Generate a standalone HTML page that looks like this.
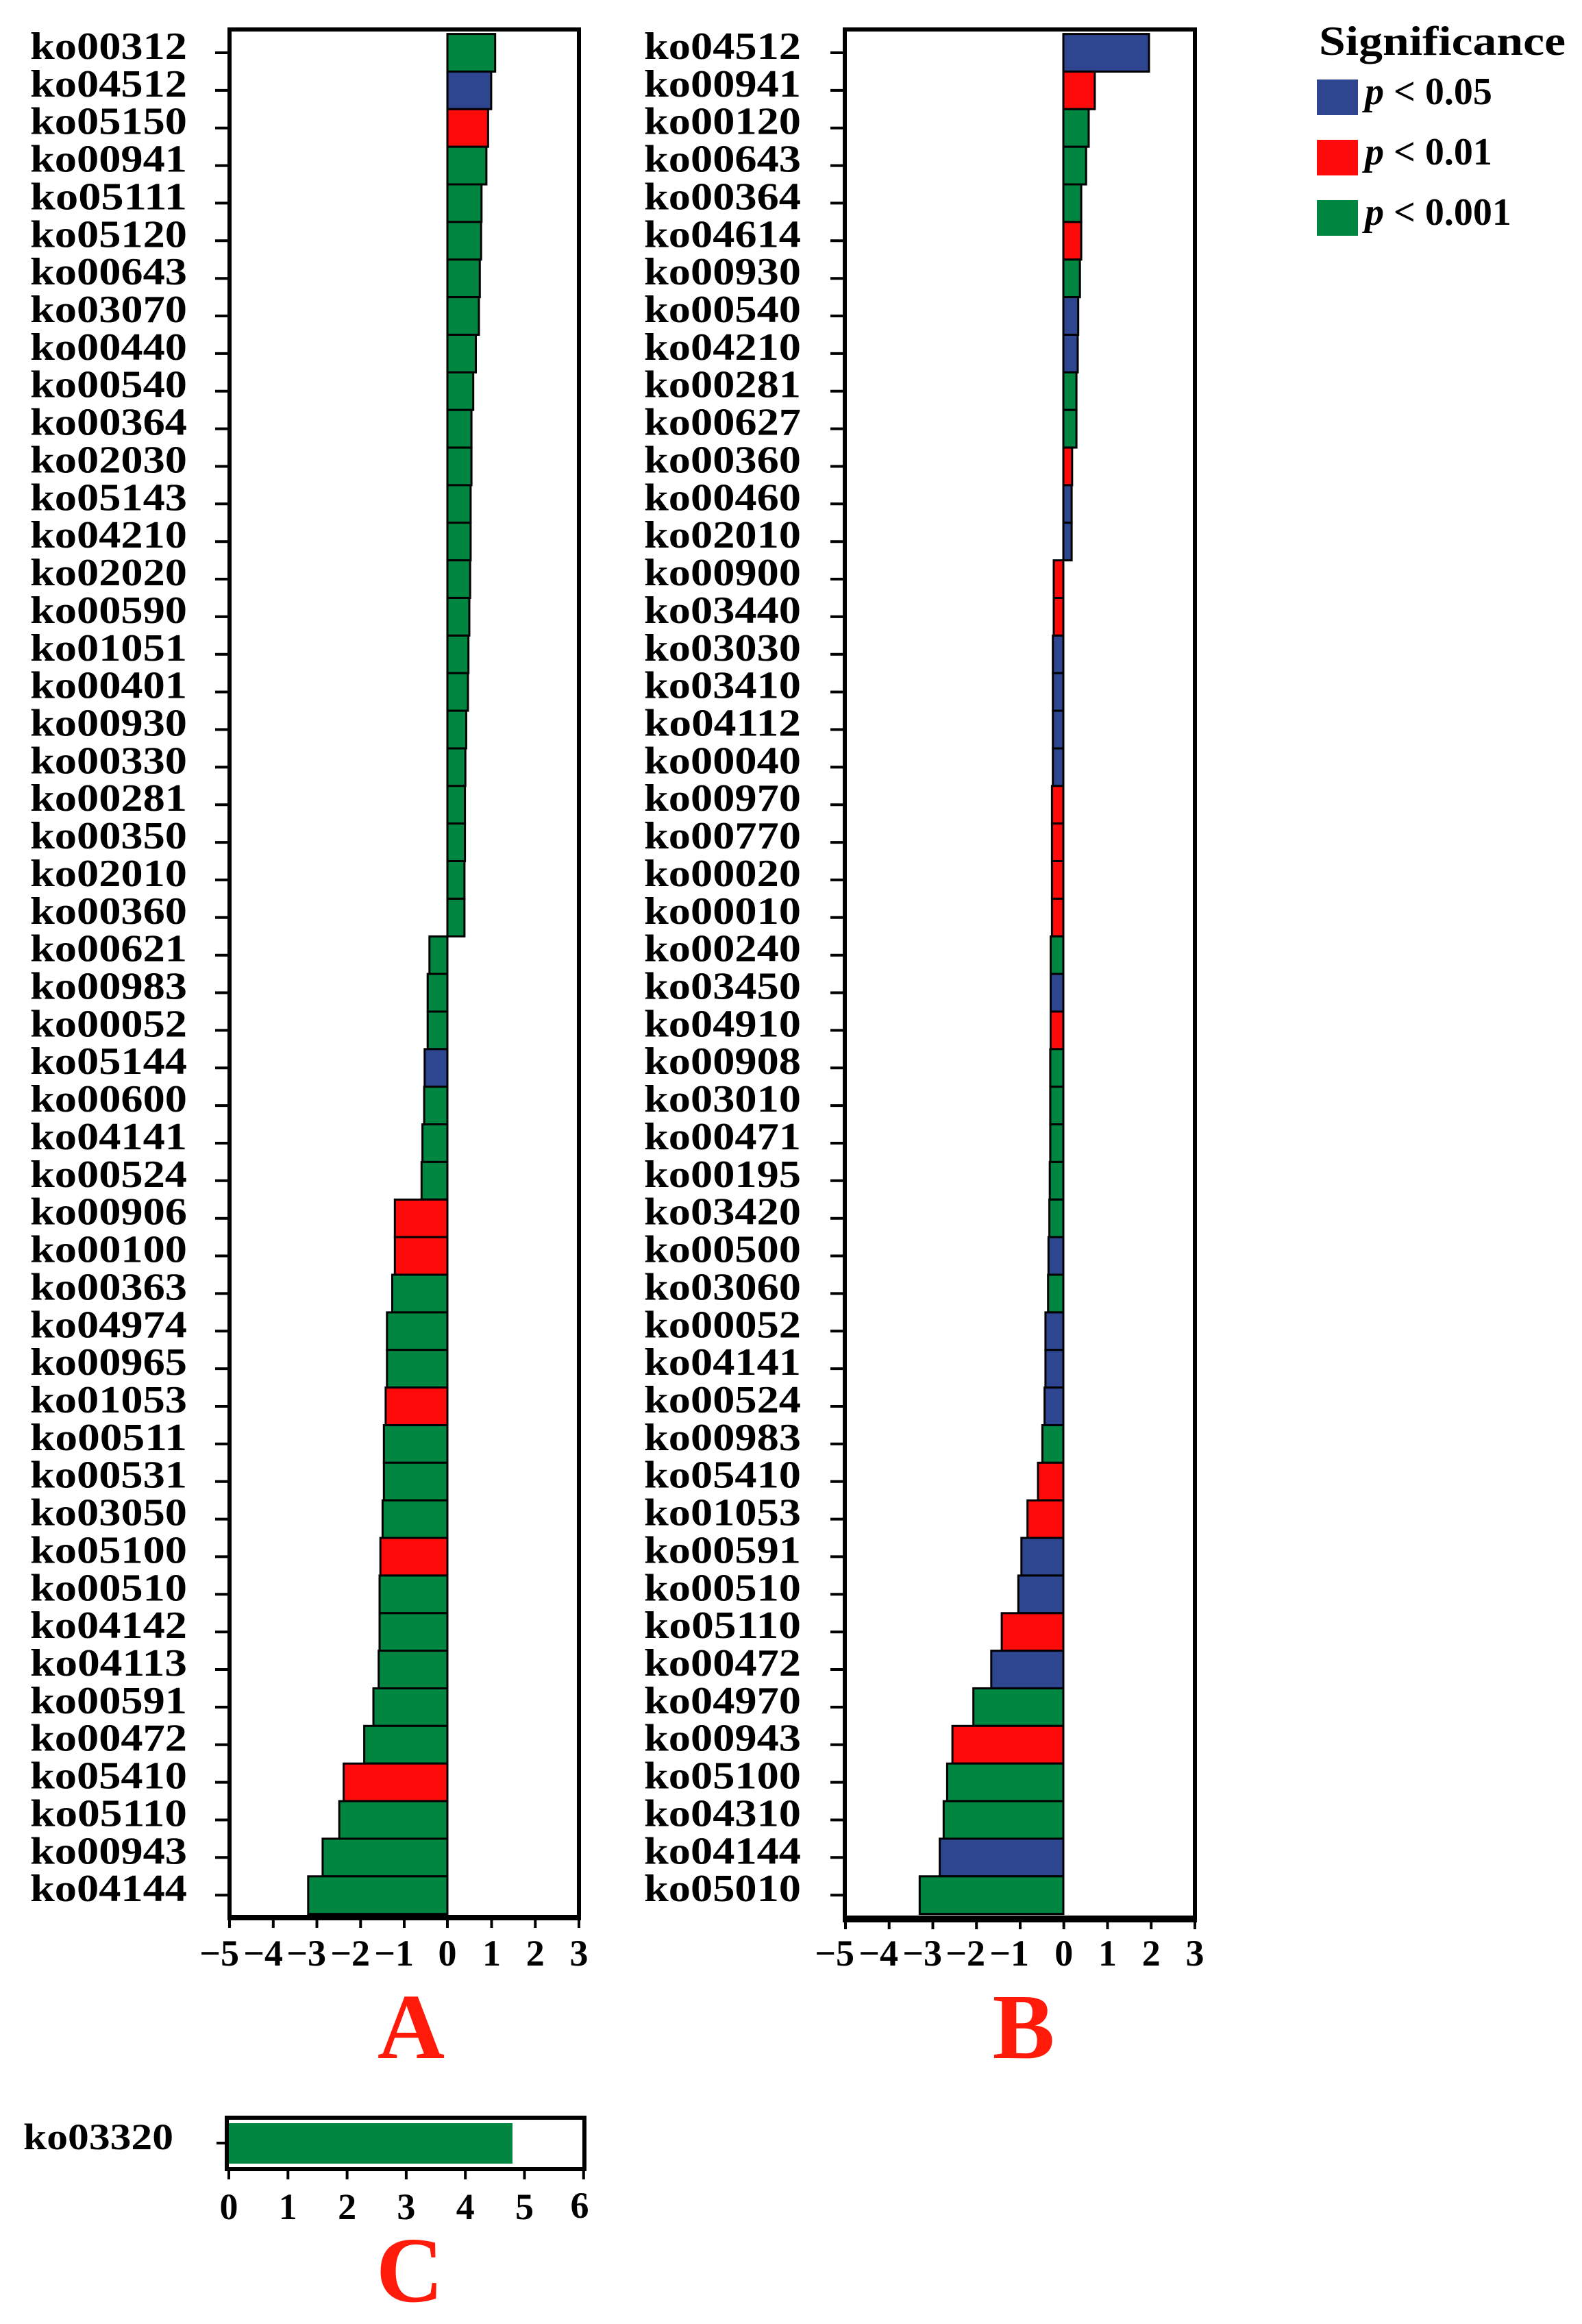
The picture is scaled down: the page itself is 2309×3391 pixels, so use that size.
<!DOCTYPE html>
<html><head><meta charset="utf-8"><style>html,body{margin:0;padding:0;background:#fff}svg{display:block}
svg text{font-family:"Liberation Serif","Times New Roman",serif;font-weight:bold}</style></head><body>
<svg width="2309" height="3391" viewBox="0 0 2309 3391" xmlns="http://www.w3.org/2000/svg">
<rect width="2309" height="3391" fill="#fff"/>
<!-- Panel A bars -->
<g stroke="#000" stroke-width="3" transform="translate(-4,0)">
<rect x="657" y="49.6" width="69.7" height="54.86" fill="#008640"/>
<rect x="657" y="104.4" width="63.9" height="54.86" fill="#2e4590"/>
<rect x="657" y="159.3" width="59.4" height="54.86" fill="#ff0a0a"/>
<rect x="657" y="214.2" width="56.9" height="54.86" fill="#008640"/>
<rect x="657" y="269.0" width="49.8" height="54.86" fill="#008640"/>
<rect x="657" y="323.9" width="49.2" height="54.86" fill="#008640"/>
<rect x="657" y="378.8" width="47.3" height="54.86" fill="#008640"/>
<rect x="657" y="433.6" width="46" height="54.86" fill="#008640"/>
<rect x="657" y="488.5" width="41.5" height="54.86" fill="#008640"/>
<rect x="657" y="543.3" width="37.7" height="54.86" fill="#008640"/>
<rect x="657" y="598.2" width="35.1" height="54.86" fill="#008640"/>
<rect x="657" y="653.1" width="35.1" height="54.86" fill="#008640"/>
<rect x="657" y="707.9" width="33.9" height="54.86" fill="#008640"/>
<rect x="657" y="762.8" width="33.9" height="54.86" fill="#008640"/>
<rect x="657" y="817.6" width="33.2" height="54.86" fill="#008640"/>
<rect x="657" y="872.5" width="32" height="54.86" fill="#008640"/>
<rect x="657" y="927.4" width="30.7" height="54.86" fill="#008640"/>
<rect x="657" y="982.2" width="30" height="54.86" fill="#008640"/>
<rect x="657" y="1037.1" width="27.5" height="54.86" fill="#008640"/>
<rect x="657" y="1092.0" width="26.2" height="54.86" fill="#008640"/>
<rect x="657" y="1146.8" width="25.6" height="54.86" fill="#008640"/>
<rect x="657" y="1201.7" width="25.6" height="54.86" fill="#008640"/>
<rect x="657" y="1256.5" width="24.9" height="54.86" fill="#008640"/>
<rect x="657" y="1311.4" width="24.9" height="54.86" fill="#008640"/>
<rect x="630.8" y="1366.3" width="26.2" height="54.86" fill="#008640"/>
<rect x="628.2" y="1421.1" width="28.8" height="54.86" fill="#008640"/>
<rect x="628.2" y="1476.0" width="28.8" height="54.86" fill="#008640"/>
<rect x="623.8" y="1530.8" width="33.2" height="54.86" fill="#2e4590"/>
<rect x="623.1" y="1585.7" width="33.9" height="54.86" fill="#008640"/>
<rect x="620.6" y="1640.6" width="36.4" height="54.86" fill="#008640"/>
<rect x="619.3" y="1695.4" width="37.7" height="54.86" fill="#008640"/>
<rect x="580.3" y="1750.3" width="76.7" height="54.86" fill="#ff0a0a"/>
<rect x="580.3" y="1805.1" width="76.7" height="54.86" fill="#ff0a0a"/>
<rect x="576.5" y="1860.0" width="80.5" height="54.86" fill="#008640"/>
<rect x="568.8" y="1914.9" width="88.2" height="54.86" fill="#008640"/>
<rect x="568.8" y="1969.7" width="88.2" height="54.86" fill="#008640"/>
<rect x="566.9" y="2024.6" width="90.1" height="54.86" fill="#ff0a0a"/>
<rect x="564.3" y="2079.5" width="92.7" height="54.86" fill="#008640"/>
<rect x="564.3" y="2134.3" width="92.7" height="54.86" fill="#008640"/>
<rect x="562.4" y="2189.2" width="94.6" height="54.86" fill="#008640"/>
<rect x="559.2" y="2244.0" width="97.8" height="54.86" fill="#ff0a0a"/>
<rect x="558" y="2298.9" width="99" height="54.86" fill="#008640"/>
<rect x="558" y="2353.8" width="99" height="54.86" fill="#008640"/>
<rect x="556.7" y="2408.6" width="100.3" height="54.86" fill="#008640"/>
<rect x="549" y="2463.5" width="108" height="54.86" fill="#008640"/>
<rect x="535.6" y="2518.3" width="121.4" height="54.86" fill="#008640"/>
<rect x="505.6" y="2573.2" width="151.4" height="54.86" fill="#ff0a0a"/>
<rect x="499.2" y="2628.1" width="157.8" height="54.86" fill="#008640"/>
<rect x="474.9" y="2682.9" width="182.1" height="54.86" fill="#008640"/>
<rect x="453.8" y="2737.8" width="203.2" height="54.86" fill="#008640"/>
</g>
<!-- Panel B bars -->
<g stroke="#000" stroke-width="3" transform="translate(-15,0)">
<rect x="1567" y="49.6" width="125" height="54.86" fill="#2e4590"/>
<rect x="1567" y="104.4" width="45.9" height="54.86" fill="#ff0a0a"/>
<rect x="1567" y="159.3" width="37" height="54.86" fill="#008640"/>
<rect x="1567" y="214.2" width="33.2" height="54.86" fill="#008640"/>
<rect x="1567" y="269.0" width="26.1" height="54.86" fill="#008640"/>
<rect x="1567" y="323.9" width="26.1" height="54.86" fill="#ff0a0a"/>
<rect x="1567" y="378.8" width="24.2" height="54.86" fill="#008640"/>
<rect x="1567" y="433.6" width="21.7" height="54.86" fill="#2e4590"/>
<rect x="1567" y="488.5" width="21" height="54.86" fill="#2e4590"/>
<rect x="1567" y="543.3" width="19.1" height="54.86" fill="#008640"/>
<rect x="1567" y="598.2" width="19.1" height="54.86" fill="#008640"/>
<rect x="1567" y="653.1" width="12.8" height="54.86" fill="#ff0a0a"/>
<rect x="1567" y="707.9" width="12.1" height="54.86" fill="#2e4590"/>
<rect x="1567" y="762.8" width="12.1" height="54.86" fill="#2e4590"/>
<rect x="1553" y="817.6" width="14" height="54.86" fill="#ff0a0a"/>
<rect x="1553" y="872.5" width="14" height="54.86" fill="#ff0a0a"/>
<rect x="1551.7" y="927.4" width="15.3" height="54.86" fill="#2e4590"/>
<rect x="1551.7" y="982.2" width="15.3" height="54.86" fill="#2e4590"/>
<rect x="1551.7" y="1037.1" width="15.3" height="54.86" fill="#2e4590"/>
<rect x="1551.7" y="1092.0" width="15.3" height="54.86" fill="#2e4590"/>
<rect x="1550.4" y="1146.8" width="16.6" height="54.86" fill="#ff0a0a"/>
<rect x="1550.4" y="1201.7" width="16.6" height="54.86" fill="#ff0a0a"/>
<rect x="1550.4" y="1256.5" width="16.6" height="54.86" fill="#ff0a0a"/>
<rect x="1550.4" y="1311.4" width="16.6" height="54.86" fill="#ff0a0a"/>
<rect x="1548.5" y="1366.3" width="18.5" height="54.86" fill="#008640"/>
<rect x="1548.5" y="1421.1" width="18.5" height="54.86" fill="#2e4590"/>
<rect x="1548.5" y="1476.0" width="18.5" height="54.86" fill="#ff0a0a"/>
<rect x="1547.9" y="1530.8" width="19.1" height="54.86" fill="#008640"/>
<rect x="1547.9" y="1585.7" width="19.1" height="54.86" fill="#008640"/>
<rect x="1547.9" y="1640.6" width="19.1" height="54.86" fill="#008640"/>
<rect x="1547.2" y="1695.4" width="19.8" height="54.86" fill="#008640"/>
<rect x="1546.6" y="1750.3" width="20.4" height="54.86" fill="#008640"/>
<rect x="1545.3" y="1805.1" width="21.7" height="54.86" fill="#2e4590"/>
<rect x="1544.7" y="1860.0" width="22.3" height="54.86" fill="#008640"/>
<rect x="1540.9" y="1914.9" width="26.1" height="54.86" fill="#2e4590"/>
<rect x="1540.9" y="1969.7" width="26.1" height="54.86" fill="#2e4590"/>
<rect x="1539.6" y="2024.6" width="27.4" height="54.86" fill="#2e4590"/>
<rect x="1536.4" y="2079.5" width="30.6" height="54.86" fill="#008640"/>
<rect x="1530" y="2134.3" width="37" height="54.86" fill="#ff0a0a"/>
<rect x="1514.7" y="2189.2" width="52.3" height="54.86" fill="#ff0a0a"/>
<rect x="1505.8" y="2244.0" width="61.2" height="54.86" fill="#2e4590"/>
<rect x="1501.3" y="2298.9" width="65.7" height="54.86" fill="#2e4590"/>
<rect x="1477.1" y="2353.8" width="89.9" height="54.86" fill="#ff0a0a"/>
<rect x="1461.8" y="2408.6" width="105.2" height="54.86" fill="#2e4590"/>
<rect x="1435.7" y="2463.5" width="131.3" height="54.86" fill="#008640"/>
<rect x="1405.1" y="2518.3" width="161.9" height="54.86" fill="#ff0a0a"/>
<rect x="1397.4" y="2573.2" width="169.6" height="54.86" fill="#008640"/>
<rect x="1392.3" y="2628.1" width="174.7" height="54.86" fill="#008640"/>
<rect x="1386.6" y="2682.9" width="180.4" height="54.86" fill="#2e4590"/>
<rect x="1357.3" y="2737.8" width="209.7" height="54.86" fill="#008640"/>
</g>
<!-- Frames -->
<rect x="335" y="43" width="510" height="2754" fill="none" stroke="#000" stroke-width="6"/>
<rect x="1233" y="43" width="511" height="2756" fill="none" stroke="#000" stroke-width="6"/>
<line x1="332" y1="2798" x2="848" y2="2798" stroke="#000" stroke-width="8"/>
<line x1="1230" y1="2800" x2="1747" y2="2800" stroke="#000" stroke-width="10"/>
<!-- y ticks -->
<g stroke="#000" stroke-width="4">
<path transform="translate(-2,0)" d="M316 77H337M316 131.9H337M316 186.7H337M316 241.6H337M316 296.4H337M316 351.3H337M316 406.2H337M316 461H337M316 515.9H337M316 570.7H337M316 625.6H337M316 680.5H337M316 735.3H337M316 790.2H337M316 845H337M316 899.9H337M316 954.8H337M316 1009.6H337M316 1064.5H337M316 1119.4H337M316 1174.2H337M316 1229.1H337M316 1283.9H337M316 1338.8H337M316 1393.7H337M316 1448.5H337M316 1503.4H337M316 1558.2H337M316 1613.1H337M316 1668H337M316 1722.8H337M316 1777.7H337M316 1832.5H337M316 1887.4H337M316 1942.3H337M316 1997.1H337M316 2052H337M316 2106.9H337M316 2161.7H337M316 2216.6H337M316 2271.4H337M316 2326.3H337M316 2381.2H337M316 2436H337M316 2490.9H337M316 2545.7H337M316 2600.6H337M316 2655.5H337M316 2710.3H337M316 2765.2H337"/>
<path transform="translate(-15,0)" d="M1227 77H1248M1227 131.9H1248M1227 186.7H1248M1227 241.6H1248M1227 296.4H1248M1227 351.3H1248M1227 406.2H1248M1227 461H1248M1227 515.9H1248M1227 570.7H1248M1227 625.6H1248M1227 680.5H1248M1227 735.3H1248M1227 790.2H1248M1227 845H1248M1227 899.9H1248M1227 954.8H1248M1227 1009.6H1248M1227 1064.5H1248M1227 1119.4H1248M1227 1174.2H1248M1227 1229.1H1248M1227 1283.9H1248M1227 1338.8H1248M1227 1393.7H1248M1227 1448.5H1248M1227 1503.4H1248M1227 1558.2H1248M1227 1613.1H1248M1227 1668H1248M1227 1722.8H1248M1227 1777.7H1248M1227 1832.5H1248M1227 1887.4H1248M1227 1942.3H1248M1227 1997.1H1248M1227 2052H1248M1227 2106.9H1248M1227 2161.7H1248M1227 2216.6H1248M1227 2271.4H1248M1227 2326.3H1248M1227 2381.2H1248M1227 2436H1248M1227 2490.9H1248M1227 2545.7H1248M1227 2600.6H1248M1227 2655.5H1248M1227 2710.3H1248M1227 2765.2H1248"/>
<!-- x ticks -->
<path d="M335 2798V2813M398.8 2798V2813M462.5 2798V2813M526.3 2798V2813M590 2798V2813M653 2798V2813M717.5 2798V2813M781.3 2798V2813M845 2798V2813"/>
<path d="M1234 2800V2815M1297.7 2800V2815M1361.5 2800V2815M1425.2 2800V2815M1489 2800V2815M1552.7 2800V2815M1616.5 2800V2815M1680.2 2800V2815M1744 2800V2815"/>
</g>
<!-- x tick labels -->
<g font-size="54" fill="#000" text-anchor="end">
<text x="349" y="2868">−5</text><text x="413" y="2868">−4</text><text x="476" y="2868">−3</text><text x="540" y="2868">−2</text><text x="604" y="2868">−1</text>
</g>
<g font-size="54" fill="#000" text-anchor="middle">
<text x="653" y="2868">0</text><text x="717.5" y="2868">1</text><text x="781.3" y="2868">2</text><text x="845" y="2868">3</text>
</g>
<g font-size="54" fill="#000" text-anchor="end">
<text x="1247" y="2868">−5</text><text x="1311" y="2868">−4</text><text x="1375" y="2868">−3</text><text x="1438" y="2868">−2</text><text x="1502" y="2868">−1</text>
</g>
<g font-size="54" fill="#000" text-anchor="middle">
<text x="1552.7" y="2868">0</text><text x="1616.5" y="2868">1</text><text x="1680.2" y="2868">2</text><text x="1744" y="2868">3</text>
</g>
<!-- A labels -->
<g font-size="56" fill="#000">
<text x="44" y="86" textLength="229" lengthAdjust="spacingAndGlyphs">ko00312</text>
<text x="44" y="140.9" textLength="229" lengthAdjust="spacingAndGlyphs">ko04512</text>
<text x="44" y="195.7" textLength="229" lengthAdjust="spacingAndGlyphs">ko05150</text>
<text x="44" y="250.6" textLength="229" lengthAdjust="spacingAndGlyphs">ko00941</text>
<text x="44" y="305.4" textLength="229" lengthAdjust="spacingAndGlyphs">ko05111</text>
<text x="44" y="360.3" textLength="229" lengthAdjust="spacingAndGlyphs">ko05120</text>
<text x="44" y="415.2" textLength="229" lengthAdjust="spacingAndGlyphs">ko00643</text>
<text x="44" y="470" textLength="229" lengthAdjust="spacingAndGlyphs">ko03070</text>
<text x="44" y="524.9" textLength="229" lengthAdjust="spacingAndGlyphs">ko00440</text>
<text x="44" y="579.7" textLength="229" lengthAdjust="spacingAndGlyphs">ko00540</text>
<text x="44" y="634.6" textLength="229" lengthAdjust="spacingAndGlyphs">ko00364</text>
<text x="44" y="689.5" textLength="229" lengthAdjust="spacingAndGlyphs">ko02030</text>
<text x="44" y="744.3" textLength="229" lengthAdjust="spacingAndGlyphs">ko05143</text>
<text x="44" y="799.2" textLength="229" lengthAdjust="spacingAndGlyphs">ko04210</text>
<text x="44" y="854" textLength="229" lengthAdjust="spacingAndGlyphs">ko02020</text>
<text x="44" y="908.9" textLength="229" lengthAdjust="spacingAndGlyphs">ko00590</text>
<text x="44" y="963.8" textLength="229" lengthAdjust="spacingAndGlyphs">ko01051</text>
<text x="44" y="1018.6" textLength="229" lengthAdjust="spacingAndGlyphs">ko00401</text>
<text x="44" y="1073.5" textLength="229" lengthAdjust="spacingAndGlyphs">ko00930</text>
<text x="44" y="1128.4" textLength="229" lengthAdjust="spacingAndGlyphs">ko00330</text>
<text x="44" y="1183.2" textLength="229" lengthAdjust="spacingAndGlyphs">ko00281</text>
<text x="44" y="1238.1" textLength="229" lengthAdjust="spacingAndGlyphs">ko00350</text>
<text x="44" y="1292.9" textLength="229" lengthAdjust="spacingAndGlyphs">ko02010</text>
<text x="44" y="1347.8" textLength="229" lengthAdjust="spacingAndGlyphs">ko00360</text>
<text x="44" y="1402.7" textLength="229" lengthAdjust="spacingAndGlyphs">ko00621</text>
<text x="44" y="1457.5" textLength="229" lengthAdjust="spacingAndGlyphs">ko00983</text>
<text x="44" y="1512.4" textLength="229" lengthAdjust="spacingAndGlyphs">ko00052</text>
<text x="44" y="1567.2" textLength="229" lengthAdjust="spacingAndGlyphs">ko05144</text>
<text x="44" y="1622.1" textLength="229" lengthAdjust="spacingAndGlyphs">ko00600</text>
<text x="44" y="1677" textLength="229" lengthAdjust="spacingAndGlyphs">ko04141</text>
<text x="44" y="1731.8" textLength="229" lengthAdjust="spacingAndGlyphs">ko00524</text>
<text x="44" y="1786.7" textLength="229" lengthAdjust="spacingAndGlyphs">ko00906</text>
<text x="44" y="1841.5" textLength="229" lengthAdjust="spacingAndGlyphs">ko00100</text>
<text x="44" y="1896.4" textLength="229" lengthAdjust="spacingAndGlyphs">ko00363</text>
<text x="44" y="1951.3" textLength="229" lengthAdjust="spacingAndGlyphs">ko04974</text>
<text x="44" y="2006.1" textLength="229" lengthAdjust="spacingAndGlyphs">ko00965</text>
<text x="44" y="2061" textLength="229" lengthAdjust="spacingAndGlyphs">ko01053</text>
<text x="44" y="2115.9" textLength="229" lengthAdjust="spacingAndGlyphs">ko00511</text>
<text x="44" y="2170.7" textLength="229" lengthAdjust="spacingAndGlyphs">ko00531</text>
<text x="44" y="2225.6" textLength="229" lengthAdjust="spacingAndGlyphs">ko03050</text>
<text x="44" y="2280.4" textLength="229" lengthAdjust="spacingAndGlyphs">ko05100</text>
<text x="44" y="2335.3" textLength="229" lengthAdjust="spacingAndGlyphs">ko00510</text>
<text x="44" y="2390.2" textLength="229" lengthAdjust="spacingAndGlyphs">ko04142</text>
<text x="44" y="2445" textLength="229" lengthAdjust="spacingAndGlyphs">ko04113</text>
<text x="44" y="2499.9" textLength="229" lengthAdjust="spacingAndGlyphs">ko00591</text>
<text x="44" y="2554.7" textLength="229" lengthAdjust="spacingAndGlyphs">ko00472</text>
<text x="44" y="2609.6" textLength="229" lengthAdjust="spacingAndGlyphs">ko05410</text>
<text x="44" y="2664.5" textLength="229" lengthAdjust="spacingAndGlyphs">ko05110</text>
<text x="44" y="2719.3" textLength="229" lengthAdjust="spacingAndGlyphs">ko00943</text>
<text x="44" y="2774.2" textLength="229" lengthAdjust="spacingAndGlyphs">ko04144</text>
</g>
<!-- B labels -->
<g font-size="56" fill="#000">
<text x="940" y="86" textLength="229" lengthAdjust="spacingAndGlyphs">ko04512</text>
<text x="940" y="140.9" textLength="229" lengthAdjust="spacingAndGlyphs">ko00941</text>
<text x="940" y="195.7" textLength="229" lengthAdjust="spacingAndGlyphs">ko00120</text>
<text x="940" y="250.6" textLength="229" lengthAdjust="spacingAndGlyphs">ko00643</text>
<text x="940" y="305.4" textLength="229" lengthAdjust="spacingAndGlyphs">ko00364</text>
<text x="940" y="360.3" textLength="229" lengthAdjust="spacingAndGlyphs">ko04614</text>
<text x="940" y="415.2" textLength="229" lengthAdjust="spacingAndGlyphs">ko00930</text>
<text x="940" y="470" textLength="229" lengthAdjust="spacingAndGlyphs">ko00540</text>
<text x="940" y="524.9" textLength="229" lengthAdjust="spacingAndGlyphs">ko04210</text>
<text x="940" y="579.7" textLength="229" lengthAdjust="spacingAndGlyphs">ko00281</text>
<text x="940" y="634.6" textLength="229" lengthAdjust="spacingAndGlyphs">ko00627</text>
<text x="940" y="689.5" textLength="229" lengthAdjust="spacingAndGlyphs">ko00360</text>
<text x="940" y="744.3" textLength="229" lengthAdjust="spacingAndGlyphs">ko00460</text>
<text x="940" y="799.2" textLength="229" lengthAdjust="spacingAndGlyphs">ko02010</text>
<text x="940" y="854" textLength="229" lengthAdjust="spacingAndGlyphs">ko00900</text>
<text x="940" y="908.9" textLength="229" lengthAdjust="spacingAndGlyphs">ko03440</text>
<text x="940" y="963.8" textLength="229" lengthAdjust="spacingAndGlyphs">ko03030</text>
<text x="940" y="1018.6" textLength="229" lengthAdjust="spacingAndGlyphs">ko03410</text>
<text x="940" y="1073.5" textLength="229" lengthAdjust="spacingAndGlyphs">ko04112</text>
<text x="940" y="1128.4" textLength="229" lengthAdjust="spacingAndGlyphs">ko00040</text>
<text x="940" y="1183.2" textLength="229" lengthAdjust="spacingAndGlyphs">ko00970</text>
<text x="940" y="1238.1" textLength="229" lengthAdjust="spacingAndGlyphs">ko00770</text>
<text x="940" y="1292.9" textLength="229" lengthAdjust="spacingAndGlyphs">ko00020</text>
<text x="940" y="1347.8" textLength="229" lengthAdjust="spacingAndGlyphs">ko00010</text>
<text x="940" y="1402.7" textLength="229" lengthAdjust="spacingAndGlyphs">ko00240</text>
<text x="940" y="1457.5" textLength="229" lengthAdjust="spacingAndGlyphs">ko03450</text>
<text x="940" y="1512.4" textLength="229" lengthAdjust="spacingAndGlyphs">ko04910</text>
<text x="940" y="1567.2" textLength="229" lengthAdjust="spacingAndGlyphs">ko00908</text>
<text x="940" y="1622.1" textLength="229" lengthAdjust="spacingAndGlyphs">ko03010</text>
<text x="940" y="1677" textLength="229" lengthAdjust="spacingAndGlyphs">ko00471</text>
<text x="940" y="1731.8" textLength="229" lengthAdjust="spacingAndGlyphs">ko00195</text>
<text x="940" y="1786.7" textLength="229" lengthAdjust="spacingAndGlyphs">ko03420</text>
<text x="940" y="1841.5" textLength="229" lengthAdjust="spacingAndGlyphs">ko00500</text>
<text x="940" y="1896.4" textLength="229" lengthAdjust="spacingAndGlyphs">ko03060</text>
<text x="940" y="1951.3" textLength="229" lengthAdjust="spacingAndGlyphs">ko00052</text>
<text x="940" y="2006.1" textLength="229" lengthAdjust="spacingAndGlyphs">ko04141</text>
<text x="940" y="2061" textLength="229" lengthAdjust="spacingAndGlyphs">ko00524</text>
<text x="940" y="2115.9" textLength="229" lengthAdjust="spacingAndGlyphs">ko00983</text>
<text x="940" y="2170.7" textLength="229" lengthAdjust="spacingAndGlyphs">ko05410</text>
<text x="940" y="2225.6" textLength="229" lengthAdjust="spacingAndGlyphs">ko01053</text>
<text x="940" y="2280.4" textLength="229" lengthAdjust="spacingAndGlyphs">ko00591</text>
<text x="940" y="2335.3" textLength="229" lengthAdjust="spacingAndGlyphs">ko00510</text>
<text x="940" y="2390.2" textLength="229" lengthAdjust="spacingAndGlyphs">ko05110</text>
<text x="940" y="2445" textLength="229" lengthAdjust="spacingAndGlyphs">ko00472</text>
<text x="940" y="2499.9" textLength="229" lengthAdjust="spacingAndGlyphs">ko04970</text>
<text x="940" y="2554.7" textLength="229" lengthAdjust="spacingAndGlyphs">ko00943</text>
<text x="940" y="2609.6" textLength="229" lengthAdjust="spacingAndGlyphs">ko05100</text>
<text x="940" y="2664.5" textLength="229" lengthAdjust="spacingAndGlyphs">ko04310</text>
<text x="940" y="2719.3" textLength="229" lengthAdjust="spacingAndGlyphs">ko04144</text>
<text x="940" y="2774.2" textLength="229" lengthAdjust="spacingAndGlyphs">ko05010</text>
</g>
<!-- Panel letters -->
<g font-size="136" fill="#ff1a0a" text-anchor="middle">
<text x="600" y="3003">A</text>
<text x="1494" y="3003">B</text>
<text x="598" y="3358">C</text>
</g>
<!-- Legend -->
<text x="1925" y="80" font-size="60" fill="#000" textLength="360" lengthAdjust="spacingAndGlyphs">Significance</text>
<rect x="1922" y="116" width="60" height="52" fill="#2e4590"/>
<rect x="1922" y="204" width="60" height="52" fill="#ff0a0a"/>
<rect x="1922" y="292" width="60" height="52" fill="#008640"/>
<g font-size="56" fill="#000">
<text x="1992" y="152"><tspan font-style="italic">p</tspan> &lt; 0.05</text>
<text x="1992" y="240"><tspan font-style="italic">p</tspan> &lt; 0.01</text>
<text x="1992" y="328"><tspan font-style="italic">p</tspan> &lt; 0.001</text>
</g>
<!-- Panel C -->
<rect x="334" y="3098" width="414" height="59" fill="#008640"/>
<rect x="331" y="3090" width="522" height="75" fill="none" stroke="#000" stroke-width="6"/>
<g stroke="#000" stroke-width="4">
<path d="M316 3127H331M334 3165V3180M420.3 3165V3180M506.6 3165V3180M592.9 3165V3180M679.2 3165V3180M765.5 3165V3180M851.8 3165V3180"/>
</g>
<text x="34" y="3136" font-size="54" fill="#000" textLength="219" lengthAdjust="spacingAndGlyphs">ko03320</text>
<g font-size="54" fill="#000" text-anchor="middle">
<text x="334" y="3238">0</text><text x="420.3" y="3238">1</text><text x="506.6" y="3238">2</text><text x="592.9" y="3238">3</text><text x="679.2" y="3238">4</text><text x="765.5" y="3238">5</text><text x="846" y="3236">6</text>
</g>
</svg>
</body></html>
